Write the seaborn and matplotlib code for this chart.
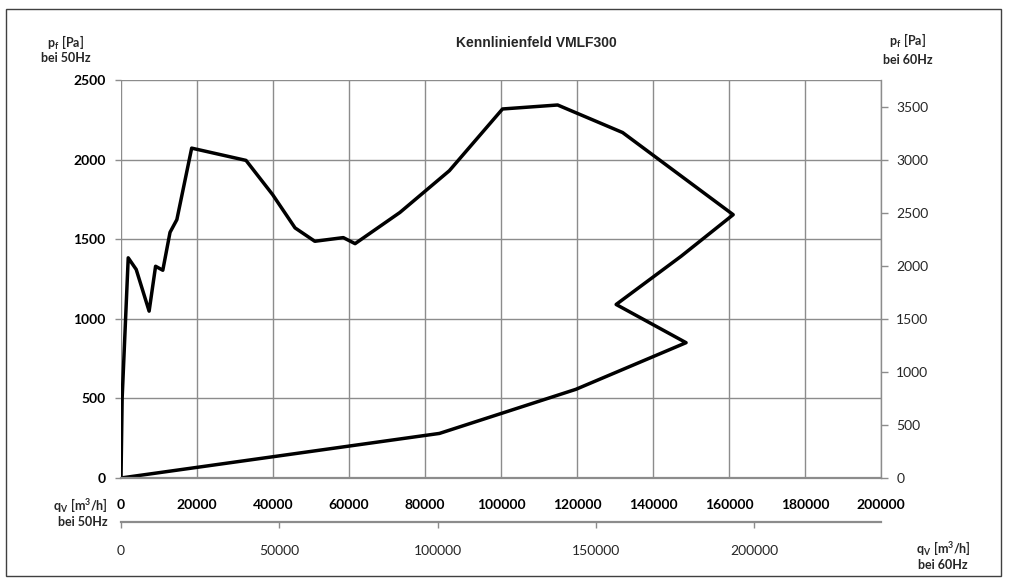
"""Kennlinienfeld VMLF300 - fan characteristic curve (50 Hz / 60 Hz axes)."""

import matplotlib

matplotlib.use("Agg")
import matplotlib.pyplot as plt
import matplotlib.patches as mpatches
from matplotlib.ticker import StrMethodFormatter
import pandas as pd
import seaborn as sns

# envelope of the characteristic field (50 Hz scale)
flow_50hz = [0, 300, 1900, 4000, 7400, 9100, 11000, 12900, 14700, 18600,
             32900, 39900, 45800, 51000, 58500, 61600, 73400, 86400, 100400,
             114900, 132000, 161100, 147400, 130300, 148700, 119700, 83800, 0]
pressure_50hz = [0, 500, 1383, 1310, 1048, 1330, 1305, 1543, 1623, 2072,
                 1995, 1780, 1571, 1487, 1510, 1472, 1668, 1930, 2318,
                 2343, 2170, 1654, 1393, 1090, 850, 557, 280, 0]

x_ticks = list(range(0, 200001, 20000))
y_ticks = list(range(0, 2501, 500))
y60_ticks = list(range(0, 3501, 500))
x60_ticks = list(range(0, 200001, 50000))

title = "Kennlinienfeld VMLF300"

sns.set_theme(style="white")
plt.rcParams["font.family"] = ["Lato", "DejaVu Sans"]
# captions are the only mathtext; draw it all in bold
plt.rcParams["mathtext.fontset"] = "custom"
plt.rcParams["mathtext.rm"] = "Lato:bold"
plt.rcParams["mathtext.bf"] = "Lato:bold"
plt.rcParams["mathtext.it"] = "Lato:bold"

W, H = 1009, 580
fig = plt.figure(figsize=(W / 100, H / 100), dpi=100)
fig.patch.set_facecolor("white")

# axes area in pixels: x 121..881, y 80..478
ax = fig.add_axes([121 / W, 1 - 478 / H, (881 - 121) / W, (478 - 80) / H])

df = pd.DataFrame({"flow": flow_50hz, "pressure": pressure_50hz})
sns.lineplot(data=df, x="flow", y="pressure", sort=False, estimator=None,
             color="black", linewidth=2.5, ax=ax)

grid_col = "#8c8c8c"
ax.set_xlim(0, 200000)
ax.set_ylim(0, 2500)
ax.set_xticks(x_ticks)
ax.set_yticks(y_ticks)
ax.xaxis.set_major_formatter(StrMethodFormatter("{x:.0f}"))
ax.yaxis.set_major_formatter(StrMethodFormatter("{x:.0f}"))
ax.grid(True, color=grid_col, linewidth=1.0)
ax.set_axisbelow(True)
ax.set_xlabel("")
ax.set_ylabel("")
for side in ["top", "right", "left"]:
    ax.spines[side].set_visible(False)
ax.spines["bottom"].set_color(grid_col)
ax.spines["bottom"].set_linewidth(1.6)
ax.tick_params(axis="x", direction="out", length=4, width=1, color=grid_col,
               pad=11, labelsize=10, labelcolor="black")
ax.tick_params(axis="y", direction="out", length=4, width=1, color=grid_col,
               pad=7, labelsize=10, labelcolor="black")
for lab in ax.get_xticklabels() + ax.get_yticklabels():
    lab.set_fontweight("bold")

# right axis: pressure at 60 Hz
ax2 = ax.twinx()
ax2.set_ylim(0, 3750)
ax2.set_yticks(y60_ticks)
ax2.yaxis.set_major_formatter(StrMethodFormatter("{x:.0f}"))
for side in ["top", "left", "bottom"]:
    ax2.spines[side].set_visible(False)
ax2.spines["right"].set_color(grid_col)
ax2.spines["right"].set_linewidth(1.0)
ax2.tick_params(axis="y", direction="out", length=5, width=1, color=grid_col,
                pad=6, labelsize=10, labelcolor="#262626")
ax2.grid(False)

# lower axis: flow at 60 Hz
sec = ax.secondary_xaxis(-0.11, functions=(lambda x: x * 1.2, lambda x: x / 1.2))
sec.set_xticks(x60_ticks)
sec.xaxis.set_major_formatter(StrMethodFormatter("{x:.0f}"))
sec.spines["bottom"].set_color(grid_col)
sec.spines["bottom"].set_linewidth(1.6)
sec.tick_params(axis="x", direction="out", length=4, width=1, color=grid_col,
                pad=13, labelsize=10, labelcolor="#262626")

# axis captions
p_unit = r"$\mathbf{p_f\ [Pa]}$"
q_unit = r"$\mathbf{q_V\ [m^3/h]}$"
cap = dict(fontsize=9, fontweight="bold")
fig.text(66 / W, 1 - 49 / H, p_unit + "\nbei 50Hz",
         ha="center", va="center", linespacing=1.0, **cap)
fig.text(908 / W, 1 - 49 / H, p_unit + "\nbei 60Hz",
         ha="center", va="center", linespacing=1.4, **cap)
fig.text(108 / W, 1 - 512 / H, q_unit + "\nbei 50Hz",
         ha="right", va="center", multialignment="right", linespacing=1.1,
         **cap)
fig.text(943 / W, 1 - 555 / H, q_unit + "\nbei 60Hz",
         ha="center", va="center", linespacing=1.1, **cap)

fig.text(536 / W, 1 - 43 / H, title, ha="center", va="center", fontsize=10,
         fontweight="bold", family=["Liberation Sans", "DejaVu Sans"])

# outer chart frame
fig.patches.append(mpatches.Rectangle((6 / W, 1 - 576 / H), (1001 - 6) / W,
                                      (576 - 9) / H, transform=fig.transFigure,
                                      fill=False, edgecolor="#404040",
                                      linewidth=1.0))

fig.savefig("out.png", dpi=100)
